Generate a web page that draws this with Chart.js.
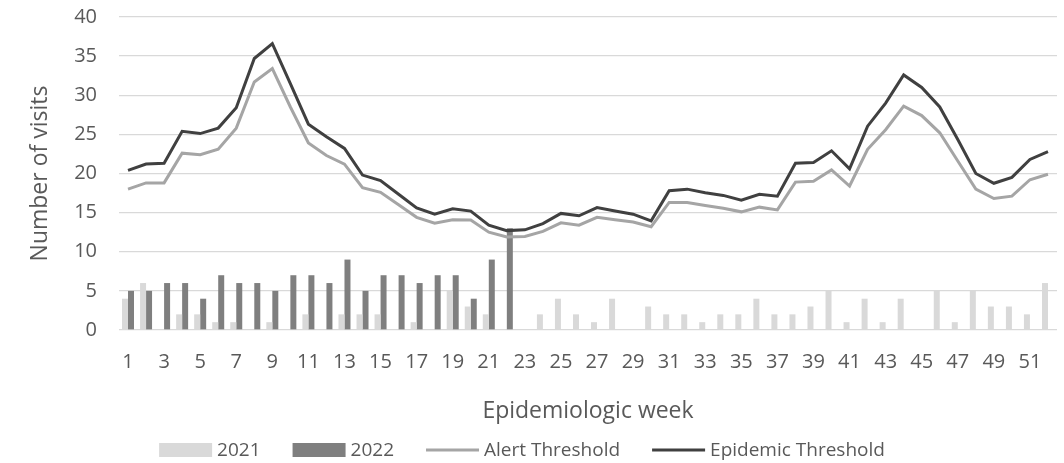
<!DOCTYPE html>
<html>
<head>
<meta charset="utf-8">
<script src="https://cdn.jsdelivr.net/npm/chart.js@4/dist/chart.umd.min.js"></script>
<style>
  html, body { margin: 0; padding: 0; background: #ffffff; }
  #wrap { width: 1064px; height: 463px; }
</style>
</head>
<body>
<div id="wrap"><canvas id="visits" width="1064" height="463"></canvas></div>
<script>
// Epidemiologic weeks 1..52
const weeks = ["1","2","3","4","5","6","7","8","9","10","11","12","13","14","15","16","17","18","19","20","21","22","23","24","25","26",
               "27","28","29","30","31","32","33","34","35","36","37","38","39","40","41","42","43","44","45","46","47","48","49","50","51","52"];

// Weekly visit counts
const visits2021 = [4,6,0,2,2,1,1,0,1,0,2,0,2,2,2,0,1,0,5,3,2,0,0,2,4,2,
                    1,4,0,3,2,2,1,2,2,4,2,2,3,5,1,4,1,4,0,5,1,5,3,3,2,6];
const visits2022 = [5,5,6,6,4,7,6,6,5,7,7,6,9,5,7,7,6,7,7,4,9,13];

// Thresholds
const alertThreshold = [18.0,18.8,18.8,22.6,22.4,23.1,25.8,31.7,33.4,28.5,23.9,22.3,21.2,18.2,17.6,16.0,
                        14.4,13.65,14.1,14.05,12.5,11.9,11.95,12.6,13.7,13.4,14.4,14.1,13.8,13.2,16.3,
                        16.3,15.9,15.55,15.1,15.7,15.35,18.9,19.0,20.45,18.4,23.1,25.6,28.6,27.4,25.2,21.6,18.0,16.8,17.1,19.2,19.9];
const epidemicThreshold = [20.4,21.2,21.3,25.4,25.1,25.8,28.4,34.7,36.6,31.5,26.3,24.7,23.2,19.8,19.1,17.35,
                           15.6,14.8,15.5,15.2,13.4,12.7,12.8,13.6,14.9,14.6,15.65,15.2,14.8,13.95,17.8,
                           18.0,17.55,17.2,16.6,17.35,17.1,21.3,21.4,22.9,20.6,26.05,29.0,32.6,31.0,28.5,24.35,20.0,18.75,19.5,21.8,22.8];

const yTicks = [0,5,10,15,20,25,30,35,40];

const FONT = '"Open Sans", "Noto Sans", sans-serif';
const TEXT = '#595959';

// Legend drawn beneath the axis title
const bottomLegend = {
  id: 'bottomLegend',
  afterDraw(chart) {
    const ctx = chart.ctx;
    const ds = chart.data.datasets;
    const sw = 53, gap = 5, space = 32, cy = 450;
    ctx.save();
    ctx.font = '19px ' + FONT;
    const widths = ds.map(d => sw + gap + ctx.measureText(d.label).width);
    const total = widths.reduce((a, b) => a + b, 0) + space * (ds.length - 1);
    let x = 522 - total / 2;
    ds.forEach((d, i) => {
      if (d.type === 'line') {
        ctx.strokeStyle = d.borderColor;
        ctx.lineWidth = 3;
        ctx.beginPath();
        ctx.moveTo(x, cy);
        ctx.lineTo(x + sw, cy);
        ctx.stroke();
      } else {
        ctx.fillStyle = d.backgroundColor;
        ctx.fillRect(x, cy - 7, sw, 14);
      }
      ctx.fillStyle = TEXT;
      ctx.textBaseline = 'middle';
      ctx.textAlign = 'left';
      ctx.fillText(d.label, x + sw + gap, cy + 1);
      x += widths[i] + space;
    });
    ctx.restore();
  }
};

new Chart(document.getElementById('visits'), {
  type: 'bar',
  data: {
    labels: weeks,
    datasets: [
      { label: '2021', data: visits2021, backgroundColor: '#d9d9d9', borderWidth: 0,
        categoryPercentage: 0.665, barPercentage: 1, order: 1 },
      { label: '2022', data: visits2022, backgroundColor: '#7f7f7f', borderWidth: 0,
        categoryPercentage: 0.665, barPercentage: 1, order: 1 },
      { type: 'line', label: 'Alert Threshold', data: alertThreshold,
        borderColor: '#a5a5a5', backgroundColor: '#a5a5a5', borderWidth: 3,
        pointRadius: 0, tension: 0, fill: false, order: 0 },
      { type: 'line', label: 'Epidemic Threshold', data: epidemicThreshold,
        borderColor: '#404040', backgroundColor: '#404040', borderWidth: 3,
        pointRadius: 0, tension: 0, fill: false, order: 0 }
    ]
  },
  options: {
    responsive: false,
    animation: false,
    layout: { padding: { top: 17, right: 7, bottom: 0, left: 0 } },
    plugins: {
      legend: { display: false },
      tooltip: { enabled: false }
    },
    scales: {
      x: {
        grid: { display: false, drawTicks: false },
        border: { display: false },
        ticks: {
          color: TEXT, font: { family: FONT, size: 20 }, padding: 20,
          autoSkip: false, maxRotation: 0, minRotation: 0,
          callback: function (v, i) { return i % 2 === 0 ? this.getLabelForValue(v) : ''; }
        },
        title: { display: true, text: 'Epidemiologic week', color: TEXT,
                 font: { family: FONT, size: 23 }, padding: { top: 0, bottom: 38 } },
        afterFit: s => { s.height = 133; s.paddingLeft = 0; s.paddingRight = 0; }
      },
      y: {
        min: 0, max: 40,
        afterBuildTicks: s => { s.ticks = yTicks.map(v => ({ value: v })); },
        grid: { color: '#d9d9d9', lineWidth: 1.3, drawTicks: false },
        border: { display: false },
        ticks: { color: TEXT, font: { family: FONT, size: 20 }, padding: 22 },
        title: { display: true, text: 'Number of visits', color: TEXT,
                 font: { family: FONT, size: 23 }, padding: { top: 27, bottom: 0 } },
        afterFit: s => { s.width = 119; s.paddingTop = 0; s.paddingBottom = 0; }
      }
    }
  },
  plugins: [bottomLegend]
});
</script>
</body>
</html>
